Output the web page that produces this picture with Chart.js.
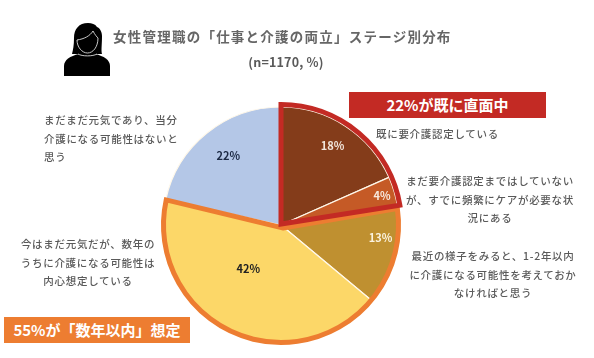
<!DOCTYPE html>
<html lang="ja">
<head>
<meta charset="utf-8">
<title>女性管理職の「仕事と介護の両立」ステージ別分布</title>
<script src="https://cdn.jsdelivr.net/npm/chart.js@4"></script>
<style>
    html, body { margin: 0; padding: 0; background: #fff; }
    #wrap { position: relative; width: 594px; height: 358px; overflow: hidden; font-family: "Noto Sans CJK JP", "Noto Sans", sans-serif; filter: blur(0.35px); }
    #wrap canvas { position: absolute; left: 0; top: 0; }
    .t { position: absolute; color: #5a5a5a; font-size: 10.5px; font-weight: 500; letter-spacing: 0.7px; line-height: 18.5px; white-space: nowrap; }
    .c { text-align: center; transform: translateX(-50%); }
    .box { position: absolute; color: #fff; font-weight: 700; font-size: 15px; text-align: center; }
    #icon { position: absolute; left: 64px; top: 23px; }
</style>
</head>
<body>
<div id="wrap">
    <canvas id="pie" width="594" height="358"></canvas>
    <svg id="icon" width="46" height="53" viewBox="0 0 46 53">
        <path d="M0 53 L0 43 C0 37 6 33 15 31 L31 31 C40 33 46 37 46 43 L46 53 Z" fill="#000"/>
        <path d="M24 0 C15 0 10 6 10 15 C10 22 9 27 8 31 L38 31 C37 27 38 22 38 13 C38 9 36 5 33 4 C31 1 28 0 24 0 Z" fill="#000"/>
        <path d="M13 17 C20 16 26 13 29 8 C31 12 33 14 34 15 C34 24 29 30 23.5 30 C18 30 13 24 13 17 Z" fill="#000" stroke="#ddd" stroke-width="0.9"/>
        <path d="M14 31 C18 33.5 29 33.5 33 31" fill="none" stroke="#ddd" stroke-width="0.9"/>
    </svg>
    <div class="t c" style="left:282px;top:25px;font-size:13.5px;letter-spacing:0.62px;line-height:22px;font-weight:700;color:#666;width:338px;text-align:justify;text-align-last:justify;">女性管理職の「仕事と介護の両立」ステージ別分布</div>
    <div class="t c" style="left:286px;top:52px;font-size:12.5px;font-weight:700;letter-spacing:0.2px;line-height:20px;">(n=1170, %)</div>

    <div class="t" style="left:44px;top:111px;">まだまだ元気であり、当分<br>介護になる可能性はないと<br>思う</div>
    <div class="t c" style="left:88px;top:235px;">今はまだ元気だが、数年の<br>うちに介護になる可能性は<br>内心想定している</div>
    <div class="t" style="left:376px;top:125px;">既に要介護認定している</div>
    <div class="t c" style="left:490px;top:172px;">まだ要介護認定まではしていない<br>が、すでに頻繁にケアが必要な状<br>況にある</div>
    <div class="t c" style="left:493px;top:247px;">最近の様子をみると、1-2年以内<br>に介護になる可能性を考えておか<br>なければと思う</div>

    <div class="box" style="left:349px;top:92px;width:197px;height:26px;line-height:25px;background:#c32a24;">22%が既に直面中</div>
    <div class="box" style="left:4px;top:317px;width:186px;height:26px;line-height:25px;background:#ed7d31;">55%が「数年以内」想定</div>
</div>
<script>
// ─── DATA ────────────────────────────────────────────
const stages = ['既に要介護認定している', '頻繁にケアが必要', '1-2年以内', '数年のうち', '当分ない'];
const shares = [18.4, 4.4, 13.3, 42.4, 21.6];   // estimated before rounding, the labels show the rounded value
const sliceColors = ['#843c1a', '#c55a26', '#bf9030', '#fcd768', '#b4c7e7'];
const labelColors = ['#f2e6dc', '#f7e9de', '#fbf3e0', '#222222', '#1c2a44'];

// label placement: fraction of the radius, turn from the slice middle (radians)
const labelRadius = [0.8, 0.89, 0.85, 0.46, 0.74];
const labelTurn = [0, 0, -0.15, 0.19, 0.03];

// outlined groups, orange first so the red one sits on top
const groups = [
    { from: 2, to: 3, color: '#ed7d31', r: 117.5, apex: [2, 3], trimEnd: 0 },
    { from: 0, to: 1, color: '#c32a24', r: 120.5, apex: [0, -1], trimEnd: 0.025 },
];

// ─── PLUGIN: group outline and % labels ──────────────
const outlinePlugin = {
    id: 'outline',
    afterDatasetsDraw(chart) {
        const ctx = chart.ctx;
        const arcs = chart.getDatasetMeta(0).data;

        groups.forEach(g => {
            const cx = arcs[g.from].x, cy = arcs[g.from].y;
            const start = arcs[g.from].startAngle;
            const end = arcs[g.to].endAngle - g.trimEnd;
            ctx.save();
            ctx.beginPath();
            ctx.moveTo(cx + g.apex[0], cy + g.apex[1]);
            ctx.lineTo(cx + Math.cos(start) * g.r, cy + Math.sin(start) * g.r);
            ctx.arc(cx, cy, g.r, start, end);
            ctx.closePath();
            ctx.lineWidth = 5;
            ctx.lineJoin = 'miter';
            ctx.strokeStyle = g.color;
            ctx.stroke();
            ctx.restore();
        });

        ctx.save();
        ctx.font = '700 11px "Noto Sans CJK JP", sans-serif';
        ctx.textAlign = 'center';
        ctx.textBaseline = 'middle';
        arcs.forEach((arc, i) => {
            const mid = (arc.startAngle + arc.endAngle) / 2 + labelTurn[i];
            const r = arc.outerRadius * labelRadius[i];
            ctx.fillStyle = labelColors[i];
            ctx.fillText(Math.round(shares[i]) + '%', arc.x + Math.cos(mid) * r, arc.y + Math.sin(mid) * r);
        });
        ctx.restore();
    }
};

// ─── CHART ───────────────────────────────────────────
new Chart(document.getElementById('pie'), {
    type: 'pie',
    data: {
        labels: stages,
        datasets: [{
            data: shares,
            backgroundColor: sliceColors,
            borderColor: '#fff8ea',
            borderWidth: 1.2
        }]
    },
    options: {
        responsive: false,
        animation: false,
        radius: 118,
        layout: { padding: { left: 0, right: 32, top: 92, bottom: 0 } },
        plugins: { legend: { display: false }, tooltip: { enabled: false } }
    },
    plugins: [outlinePlugin]
});
</script>
</body>
</html>
